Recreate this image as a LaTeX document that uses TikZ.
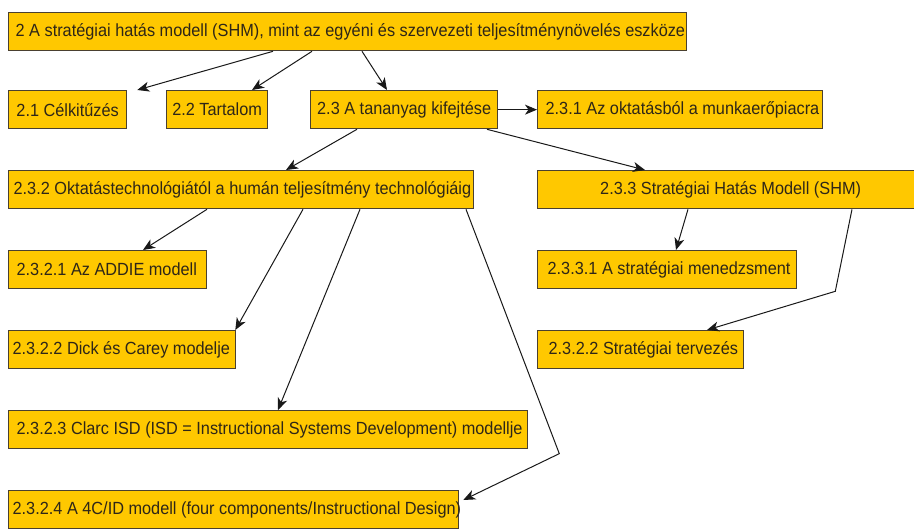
\documentclass[tikz,border=0pt]{standalone}
\usepackage{fontspec}
\setmainfont{Liberation Sans}
\usetikzlibrary{arrows.meta}
\definecolor{boxfill}{HTML}{FFC800}
\definecolor{boxline}{HTML}{4A4030}
\definecolor{labelink}{HTML}{2E2618}
% box content: fixed width, text left-aligned after a pad, or centred
\newcommand\lefttext[3]{\makebox[#1pt][l]{\hspace*{#2pt}\scalebox{1}[1.08]{#3}}}
\newcommand\midtext[2]{\makebox[#1pt][c]{\scalebox{1}[1.08]{#2}}}
\tikzset{
  topic/.style={draw=boxline, fill=boxfill, line width=1.3pt, anchor=north west,
    inner xsep=0pt, inner ysep=0pt, minimum height=38pt,
    font=\fontsize{16.3}{18}\selectfont, text=labelink},
  link/.style={draw=black!90, line width=1pt,
    -{Stealth[length=12pt,width=10pt,inset=3.5pt]}},
}
\begin{document}
\begin{tikzpicture}[x=1pt,y=-1pt]
\fill[white] (0,0) rectangle (914,531);
\clip (0,0) rectangle (914,531);

% row 1
\node[topic] (top) at (8,12) {\lefttext{678}{7}{2 A stratégiai hatás modell (SHM), mint az egyéni és szervezeti teljesítménynövelés eszköze}};
% row 2
\node[topic] (c21) at (8,90) {\midtext{118}{2.1 Célkitűzés}};
\node[topic] (c22) at (166,90) {\midtext{101}{2.2 Tartalom}};
\node[topic] (c23) at (310,90) {\midtext{187}{2.3 A tananyag kifejtése}};
\node[topic] (c231) at (537,90) {\lefttext{285}{8}{2.3.1 Az oktatásból a munkaerőpiacra}};
% row 3
\node[topic] (c232) at (8,170) {\lefttext{465}{5}{2.3.2 Oktatástechnológiától a humán teljesítmény technológiáig}};
\node[topic] (c233) at (537,170) {\midtext{386}{2.3.3 Stratégiai Hatás Modell (SHM)}};
% row 4
\node[topic] (c2321) at (8,250) {\lefttext{198}{8}{2.3.2.1 Az ADDIE modell}};
\node[topic] (c2331) at (537,250) {\lefttext{259}{10}{2.3.3.1 A stratégiai menedzsment}};
% row 5
\node[topic] (dick) at (8,330) {\lefttext{227}{4}{2.3.2.2 Dick és Carey modelje}};
\node[topic] (terv) at (537,330) {\lefttext{206}{11}{2.3.2.2 Stratégiai tervezés}};
% row 6
\node[topic] (clarc) at (8,410) {\lefttext{519}{8}{2.3.2.3 Clarc ISD (ISD = Instructional Systems Development) modellje}};
% row 7
\node[topic] (c4c) at (8,490) {\lefttext{450}{4}{2.3.2.4 A 4C/ID modell (four components/Instructional Design)}};

% connectors
\draw[link] ([xshift=265pt]top.south west) -- ([xshift=10pt]c21.north east);
\draw[link] ([xshift=304pt]top.south west) -- ([xshift=86pt]c22.north west);
\draw[link] ([xshift=354pt]top.south west) -- ([xshift=77pt]c23.north west);
\draw[link] (c23.east) -- (c231.west);
\draw[link] ([xshift=47pt]c23.south west) -- ([xshift=278pt]c232.north west);
\draw[link] ([xshift=177pt]c23.south west) -- ([xshift=108pt]c233.north west);

\draw[link] ([xshift=199pt]c232.south west) -- ([xshift=135pt]c2321.north west);
\draw[link] ([xshift=295pt]c232.south west) -- ([xshift=-1pt]dick.north east);
\draw[link] ([xshift=352pt]c232.south west) -- ([xshift=270pt]clarc.north west);
\draw[link] ([xshift=458pt]c232.south west) -- ([xshift=31pt,yshift=-24pt]clarc.east)
  -- ([xshift=4pt,yshift=-10pt]c4c.north east);

\draw[link] ([xshift=151pt]c233.south west) -- ([xshift=139pt]c2331.north west);
\draw[link] ([xshift=315pt]c233.south west) -- ([xshift=38pt,yshift=-2pt]c2331.south east)
  -- ([xshift=170pt]terv.north west);
\end{tikzpicture}
\end{document}
